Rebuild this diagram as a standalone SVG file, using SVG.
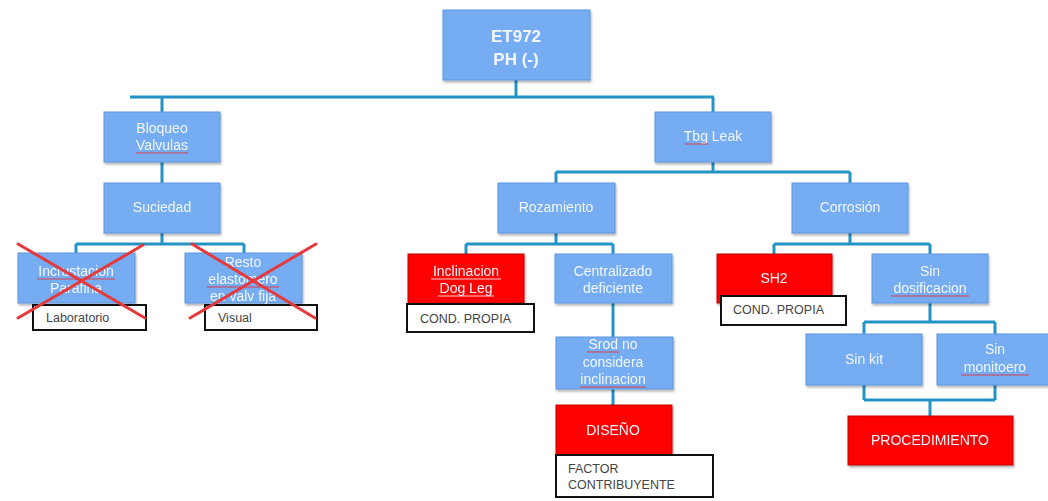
<svg xmlns="http://www.w3.org/2000/svg" width="1048" height="501" viewBox="0 0 1048 501">
<style>
.n{fill:#74acf2;stroke:#5e97dd;stroke-width:1}
.r{fill:#fe0000;stroke:#c00000;stroke-width:1}
.t{font-family:"Liberation Sans",Arial,sans-serif;font-size:14px;fill:#f3f7ff;text-anchor:middle}
.b{font-weight:bold;font-size:17px}
.lb{fill:#ffffff;stroke:#111111;stroke-width:2}
.lt{font-family:"Liberation Sans",Arial,sans-serif;font-size:12.5px;fill:#444444}
.c{fill:none;stroke:#2393c6;stroke-width:3}
.x{stroke:#e6393c;stroke-width:3;stroke-linecap:round}
.u{fill:none;stroke:#d8404a;stroke-width:1}
.w{fill:none;stroke:#ffd0d0;stroke-width:1}
</style>
<defs>
<filter id="sh" x="-10%" y="-10%" width="125%" height="130%">
<feDropShadow dx="1" dy="2" stdDeviation="1.2" flood-color="#000" flood-opacity="0.3"/>
</filter>
</defs>
<g id="connectors">
<path class="c" d="M516,80V97M130,97H714M162,97V112M713,97V112"/>
<path class="c" d="M162,162V183"/>
<path class="c" d="M162,233V244M76,244H244M76,244V253M244,244V253"/>
<path class="c" d="M713,162V172M556,172H850M556,172V183M850,172V183"/>
<path class="c" d="M556,233V244M466,244H613M466,244V254M613,244V254"/>
<path class="c" d="M613,303V337M613,389V405"/>
<path class="c" d="M850,233V244M774,244H930M774,244V254M930,244V254"/>
<path class="c" d="M930,303V322M864,322H995M864,322V334M995,322V334"/>
<path class="c" d="M864,385V400M995,385V400M864,400H995M930,400V416"/>
</g>
<g id="root" filter="url(#sh)"><rect class="n" x="443" y="10" width="147" height="70"/>
<text class="t b" x="516" y="42">ET972</text><text class="t b" x="516" y="65">PH (-)</text></g>
<g id="bloqueo" filter="url(#sh)"><rect class="n" x="104" y="112" width="116" height="50"/>
<text class="t" x="162" y="133">Bloqueo</text><text class="t" x="162" y="150">Valvulas</text></g>
<path class="u" d="M136,153H188"/>
<g id="suciedad" filter="url(#sh)"><rect class="n" x="104" y="183" width="116" height="50"/>
<text class="t" x="162" y="212">Suciedad</text></g>
<g id="incrustacion" filter="url(#sh)"><rect class="n" x="18" y="253" width="117" height="50"/>
<text class="t" x="76" y="276">Incrustacion</text><text class="t" x="76" y="293">Parafina</text></g>
<path class="u" d="M37,279H115"/>
<g id="resto" filter="url(#sh)"><rect class="n" x="185" y="253" width="117" height="50"/>
<text class="t" x="243" y="267">Resto</text><text class="t" x="243" y="284">elastomero</text><text class="t" x="243" y="301">en valv fija</text></g>
<path class="u" d="M207,287H279"/>
<g id="laboratorio"><rect class="lb" x="33" y="305" width="113" height="25"/><text class="lt" x="46" y="322">Laboratorio</text></g>
<g id="visual"><rect class="lb" x="205" y="305" width="112" height="25"/><text class="lt" x="218" y="322">Visual</text></g>
<g id="cross1"><line class="x" x1="18" y1="244" x2="145" y2="318"/><line class="x" x1="18" y1="318" x2="143" y2="245"/></g>
<g id="cross2"><line class="x" x1="192" y1="244" x2="315" y2="318"/><line class="x" x1="190" y1="318" x2="316" y2="244"/></g>
<g id="tbgleak" filter="url(#sh)"><rect class="n" x="655" y="112" width="116" height="50"/>
<text class="t" x="713" y="141">Tbg Leak</text></g>
<path class="u" d="M685,144H708"/>
<g id="rozamiento" filter="url(#sh)"><rect class="n" x="498" y="183" width="117" height="50"/>
<text class="t" x="556" y="212">Rozamiento</text></g>
<g id="inclinacion" filter="url(#sh)"><rect class="r" x="408" y="254" width="116" height="49"/>
<text class="t" x="466" y="276">Inclinacion</text><text class="t" x="466" y="293">Dog Leg</text></g>
<path class="w" d="M431,279H501M438,296H494"/>
<g id="condpropia1"><rect class="lb" x="407" y="304" width="127" height="28"/><text class="lt" x="420" y="323">COND.  PROPIA</text></g>
<g id="centralizado" filter="url(#sh)"><rect class="n" x="555" y="254" width="117" height="49"/>
<text class="t" x="613" y="276">Centralizado</text><text class="t" x="613" y="293">deficiente</text></g>
<g id="srod" filter="url(#sh)"><rect class="n" x="556" y="337" width="117" height="52"/>
<text class="t" x="613" y="349">Srod no</text><text class="t" x="613" y="367">considera</text><text class="t" x="613" y="384">inclinacion</text></g>
<path class="u" d="M587,352H619M580,387H646"/>
<g id="diseno" filter="url(#sh)"><rect class="r" x="556" y="405" width="116" height="50"/>
<text class="t" x="613" y="435">DISEÑO</text></g>
<g id="factor"><rect class="lb" x="556" y="455" width="157" height="42"/><text class="lt" x="568" y="473">FACTOR</text><text class="lt" x="568" y="489">CONTRIBUYENTE</text></g>
<g id="corrosion" filter="url(#sh)"><rect class="n" x="792" y="183" width="116" height="50"/>
<text class="t" x="850" y="212">Corrosión</text></g>
<g id="sh2" filter="url(#sh)"><rect class="r" x="717" y="254" width="115" height="49"/>
<text class="t" x="774" y="283">SH2</text></g>
<g id="condpropia2"><rect class="lb" x="721" y="296" width="125" height="29"/><text class="lt" x="733" y="314">COND.  PROPIA</text></g>
<g id="sindosificacion" filter="url(#sh)"><rect class="n" x="872" y="254" width="116" height="49"/>
<text class="t" x="930" y="276">Sin</text><text class="t" x="930" y="293">dosificacion</text></g>
<path class="u" d="M891,296H969"/>
<g id="sinkit" filter="url(#sh)"><rect class="n" x="806" y="334" width="116" height="51"/>
<text class="t" x="864" y="364">Sin kit</text></g>
<g id="sinmonitoero" filter="url(#sh)"><rect class="n" x="937" y="334" width="116" height="51"/>
<text class="t" x="995" y="354">Sin</text><text class="t" x="995" y="372">monitoero</text></g>
<path class="u" d="M961,375H1029"/>
<g id="procedimiento" filter="url(#sh)"><rect class="r" x="848" y="416" width="165" height="49"/>
<text class="t" x="930" y="445">PROCEDIMIENTO</text></g>
</svg>
